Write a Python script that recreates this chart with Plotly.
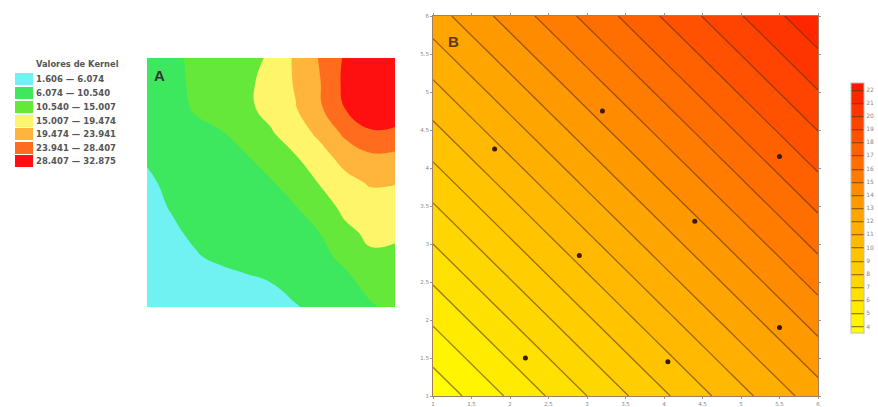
import plotly.graph_objects as go

W, H = 878, 407

# ---------------- Panel A: kernel density classes ----------------
kernel_breaks = [1.606, 6.074, 10.540, 15.007, 19.474, 23.941, 28.407, 32.875]
kernel_colors = ["#70f2f2", "#3de85e", "#66e83a", "#fff56a", "#ffb43c", "#ff6c1e", "#ff1010"]
legend_title = "Valores de Kernel"

kernel_u = [0, 1, 2, 3, 4, 5, 6, 7, 8, 9, 10]
kernel_v = [0, 1, 2, 3, 4, 5, 6, 7, 8, 9, 10]
kernel_z = [
    [2.0, 2.5, 3.0, 3.6, 4.3, 5.0, 5.8, 7.2, 8.6, 10.2, 11.2],
    [2.6, 3.2, 3.9, 4.6, 5.3, 6.1, 7.6, 8.8, 9.8, 11.5, 12.5],
    [3.4, 4.5, 5.8, 6.8, 7.6, 8.3, 9.0, 9.8, 11.2, 14.3, 14.0],
    [4.2, 5.5, 6.8, 7.5, 8.2, 8.9, 9.6, 10.6, 13.9, 16.0, 15.8],
    [5.0, 6.3, 7.1, 8.0, 8.8, 9.6, 10.4, 12.6, 16.3, 17.6, 17.4],
    [5.7, 6.6, 7.5, 8.5, 9.4, 10.2, 12.5, 15.4, 18.2, 19.9, 19.7],
    [6.3, 7.3, 8.3, 9.3, 10.2, 12.4, 14.7, 17.9, 21.0, 23.0, 22.8],
    [6.8, 8.0, 9.4, 10.3, 12.4, 14.6, 17.6, 20.5, 25.0, 27.8, 27.5],
    [7.0, 9.0, 11.1, 12.6, 14.1, 16.5, 19.3, 23.5, 28.6, 32.0, 31.5],
    [7.5, 9.5, 11.3, 12.8, 14.1, 16.6, 19.9, 23.9, 29.5, 32.5, 32.0],
    [8.0, 9.8, 11.3, 12.6, 13.8, 15.5, 20.3, 24.4, 29.0, 31.5, 31.5],
]

# ---------------- Panel B: trend surface + sample points ----------------
trend_x = [1, 2, 3, 4, 5, 6]
trend_y = [1, 2, 3, 4, 5, 6]
trend_z = [
    [3.30, 5.15, 7.00, 8.85, 10.70, 12.55],
    [5.15, 7.00, 8.85, 10.70, 12.55, 14.40],
    [7.00, 8.85, 10.70, 12.55, 14.40, 16.25],
    [8.85, 10.70, 12.55, 14.40, 16.25, 18.10],
    [10.70, 12.55, 14.40, 16.25, 18.10, 19.95],
    [12.55, 14.40, 16.25, 18.10, 19.95, 21.80],
]
sample_x = [1.8, 3.2, 5.5, 4.4, 2.9, 2.2, 4.05, 5.5]
sample_y = [4.25, 4.75, 4.15, 3.3, 2.85, 1.5, 1.45, 1.9]
axis_ticks = [1, 1.5, 2, 2.5, 3, 3.5, 4, 4.5, 5, 5.5, 6]
axis_labels = ["1", "1.5", "2", "2.5", "3", "3.5", "4", "4.5", "5", "5.5", "6"]
cbar_ticks = [4, 5, 6, 7, 8, 9, 10, 11, 12, 13, 14, 15, 16, 17, 18, 19, 20, 21, 22]


def px_x(p):
    return p / W


def px_y(p):
    return 1 - p / H


fig = go.Figure()

# Panel A filled contour (discrete classes)
n_a = len(kernel_colors)
step_a = (kernel_breaks[-1] - kernel_breaks[0]) / n_a
cs_a = [[i / (n_a - 1), c] for i, c in enumerate(kernel_colors)]
fig.add_trace(go.Contour(
    x=kernel_u, y=kernel_v, z=kernel_z,
    xaxis="x", yaxis="y",
    autocontour=False,
    contours=dict(start=kernel_breaks[1], end=kernel_breaks[-2] + 0.01 * step_a,
                  size=step_a, coloring="fill", showlines=False),
    colorscale=cs_a,
    line=dict(width=0, smoothing=1.3),
    showscale=False,
    hoverinfo="skip",
))

# Panel B contour
cs_b = [[0, "#ffff00"], [0.5, "#ffa000"], [1, "#ff1800"]]
fig.add_trace(go.Contour(
    x=trend_x, y=trend_y, z=trend_z,
    xaxis="x2", yaxis="y2",
    autocontour=False,
    contours=dict(start=cbar_ticks[0], end=cbar_ticks[-1] + 0.01, size=1,
                  coloring="fill", showlines=True),
    colorscale=cs_b,
    line=dict(width=1.3, color="rgba(90,50,10,0.6)"),
    colorbar=dict(
        x=851 / W, xanchor="left", y=1 - 208 / H, yanchor="middle",
        len=250 / H, lenmode="fraction", thickness=13,
        outlinewidth=1, outlinecolor="#bbbbbb",
        tickvals=cbar_ticks, ticks="", tickfont=dict(size=6, color="#888888"),
        xpad=0, ypad=0,
    ),
    hoverinfo="skip",
))

fig.add_trace(go.Scatter(
    x=sample_x, y=sample_y, xaxis="x2", yaxis="y2",
    mode="markers",
    marker=dict(size=5, color="#3a1a0a", symbol="circle"),
    showlegend=False, hoverinfo="skip",
))

# Legend for panel A (swatches + labels)
row_tops = [73, 87, 101, 115, 128, 142, 155]
shapes = []
annotations = []
for i, c in enumerate(kernel_colors):
    top = row_tops[i]
    shapes.append(dict(type="rect", xref="paper", yref="paper",
                       x0=px_x(15), x1=px_x(33), y0=px_y(top + 12), y1=px_y(top),
                       fillcolor=c, line=dict(width=0)))
    label = f"{kernel_breaks[i]:.3f} — {kernel_breaks[i + 1]:.3f}"
    annotations.append(dict(xref="paper", yref="paper", x=px_x(34), y=px_y(top + 6),
                            xanchor="left", yanchor="middle", showarrow=False,
                            text=f"<b>{label}</b>",
                            font=dict(size=8.5, color="#555555", family="DejaVu Sans")))
annotations.append(dict(xref="paper", yref="paper", x=px_x(34), y=px_y(64),
                        xanchor="left", yanchor="middle", showarrow=False,
                        text=f"<b>{legend_title}</b>",
                        font=dict(size=8.3, color="#555555", family="DejaVu Sans")))
annotations.append(dict(xref="paper", yref="paper", x=px_x(152), y=px_y(75),
                        xanchor="left", yanchor="middle", showarrow=False,
                        text="<b>A</b>", font=dict(size=15, color="#333333", family="Liberation Sans")))
annotations.append(dict(xref="paper", yref="paper", x=px_x(446), y=px_y(41),
                        xanchor="left", yanchor="middle", showarrow=False,
                        text="<b>B</b>", font=dict(size=15, color="#5a3a20", family="Liberation Sans")))

axis_b = dict(
    range=[1, 6], tickvals=axis_ticks, ticktext=axis_labels,
    ticks="outside", ticklen=2, tickcolor="#999999",
    tickfont=dict(size=5.5, color="#888888"),
    showgrid=False, zeroline=False, showline=True, linecolor="#a08060",
    linewidth=1, mirror="ticks", automargin=False,
)

fig.update_layout(
    width=W, height=H,
    margin=dict(l=0, r=0, t=0, b=0),
    paper_bgcolor="white", plot_bgcolor="white",
    font=dict(family="DejaVu Sans"),
    showlegend=False,
    xaxis=dict(domain=[147 / W, 395 / W], range=[0, 10], visible=False),
    yaxis=dict(domain=[1 - 307 / H, 1 - 58 / H], range=[0, 10], visible=False),
    xaxis2=dict(domain=[433 / W, 818 / W], anchor="y2", **axis_b),
    yaxis2=dict(domain=[1 - 396 / H, 1 - 16 / H], anchor="x2", **axis_b),
    shapes=shapes,
    annotations=annotations,
)

fig.write_html("out.html",
               config={"displayModeBar": False, "staticPlot": True},
               post_script="document.body.style.margin='0';document.body.style.overflow='hidden';")
